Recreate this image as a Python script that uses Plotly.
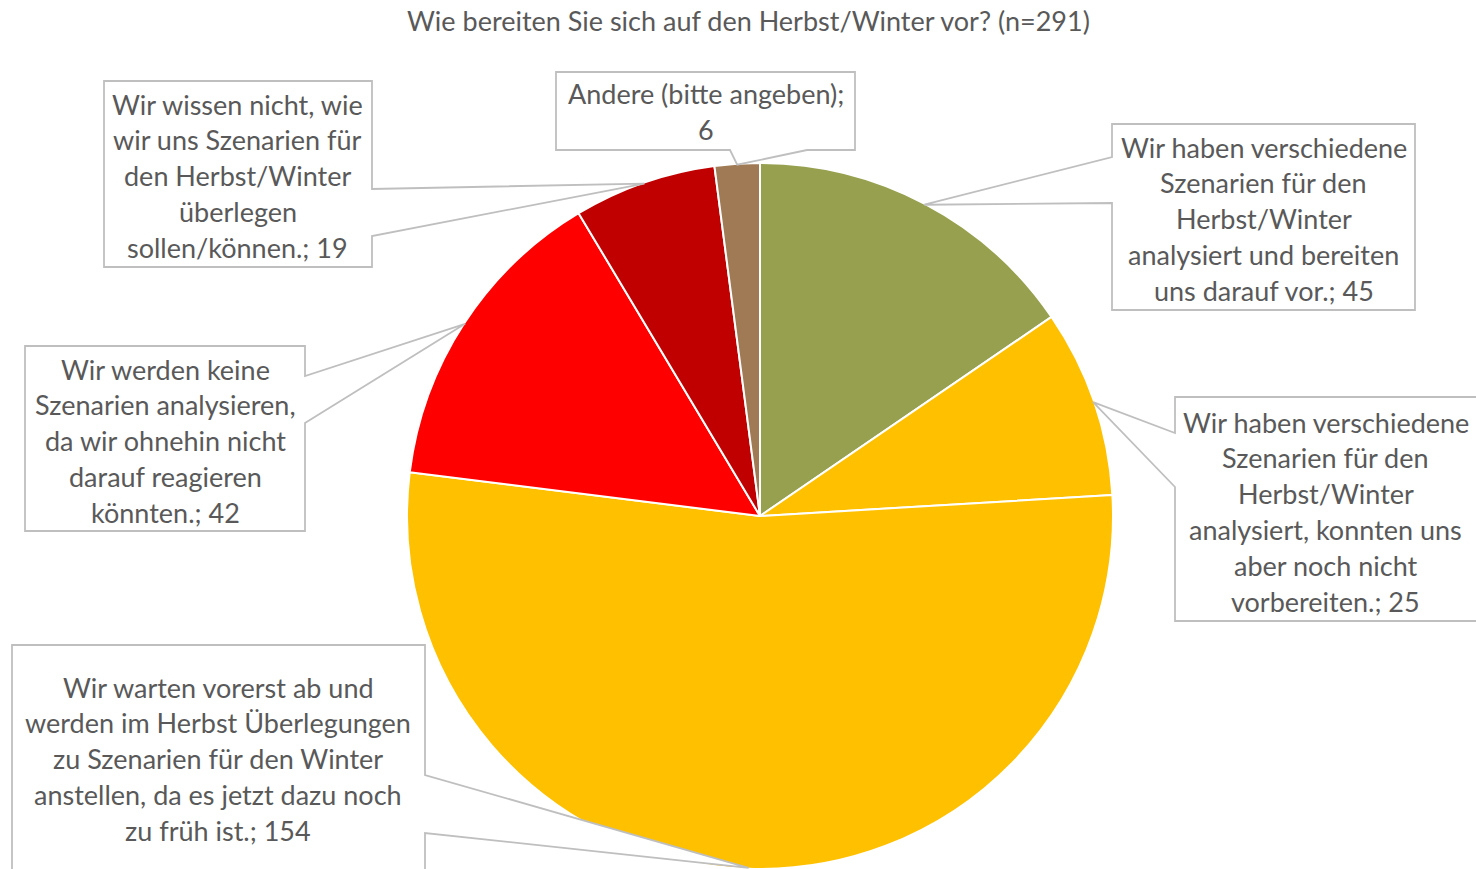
import math
import plotly.graph_objects as go

W, H = 1476, 869

title = "Wie bereiten Sie sich auf den Herbst/Winter vor? (n=291)"

# wrapped category labels (as shown in the callouts)
label_lines = [
    ["Wir haben verschiedene", "Szenarien für den", "Herbst/Winter", "analysiert und bereiten", "uns darauf vor."],
    ["Wir haben verschiedene", "Szenarien für den", "Herbst/Winter", "analysiert, konnten uns", "aber noch nicht", "vorbereiten."],
    ["Wir warten vorerst ab und", "werden im Herbst Überlegungen", "zu Szenarien für den Winter", "anstellen, da es jetzt dazu noch", "zu früh ist."],
    ["Wir werden keine", "Szenarien analysieren,", "da wir ohnehin nicht", "darauf reagieren", "könnten."],
    ["Wir wissen nicht, wie", "wir uns Szenarien für", "den Herbst/Winter", "überlegen", "sollen/können."],
    ["Andere (bitte angeben)"],
]
categories = [" ".join(l) for l in label_lines]
values = [45, 25, 154, 42, 19, 6]
value_on_new_line = [False, False, False, False, False, True]
colors = ["#97A04E", "#FFC000", "#FFC000", "#FF0000", "#C00000", "#A07A55"]

# ---- layout constants (pixels, from top-left) ----
CX, CY, R = 760, 516, 353
FONT = "Lato"
TXT = "#595959"
LINE = "#BFBFBF"
LBL_SIZE = 27
TITLE_SIZE = 27
LINE_GAP = 35.8

# callout boxes: x0, y0, x1, y1, wedge side, wedge base a, b, first text line y
boxes = [
    (1112, 124, 1415, 310, "left", 157, 203, 147),
    (1175, 397, 1480, 621, "left", 433, 487, 422),
    (12, 645, 425, 900, "right", 775, 833, 687),
    (25, 346, 305, 531, "right", 376, 423, 369),
    (104, 81, 372, 267, "right", 189, 236, 104),
    (556, 72, 855, 150, "bottom", 730, 807, 94),
]


def px(x):
    return x / W


def py(y):
    return 1 - y / H


fig = go.Figure()
fig.add_trace(go.Pie(
    labels=categories,
    values=values,
    marker=dict(colors=colors, line=dict(color="white", width=2)),
    sort=False,
    direction="clockwise",
    rotation=0,
    textinfo="none",
    hoverinfo="label+value",
    showlegend=False,
    domain=dict(x=[(CX - R) / W, (CX + R) / W], y=[max(0, (H - CY - R)) / H, (H - CY + R) / H]),
))

total = sum(values)
shapes = []
annotations = []
cum = 0
for i, v in enumerate(values):
    mid = (cum + v / 2) / total * 2 * math.pi
    cum += v
    tx = CX + (R - 1) * math.sin(mid)
    ty = CY - (R - 1) * math.cos(mid)
    x0, y0, x1, y1, side, a, b, ly = boxes[i]
    pts = [(x0, y0)]
    if side == "top":
        pts += [(a, y0), (tx, ty), (b, y0)]
    pts += [(x1, y0)]
    if side == "right":
        pts += [(x1, a), (tx, ty), (x1, b)]
    pts += [(x1, y1)]
    if side == "bottom":
        pts += [(b, y1), (tx, ty), (a, y1)]
    pts += [(x0, y1)]
    if side == "left":
        pts += [(x0, b), (tx, ty), (x0, a)]
    path = "M " + " L ".join(f"{px(x):.5f},{py(y):.5f}" for x, y in pts) + " Z"
    shapes.append(dict(type="path", xref="paper", yref="paper", path=path,
                       fillcolor="white", line=dict(color=LINE, width=1.8), layer="above"))
    lines = list(label_lines[i])
    if value_on_new_line[i]:
        lines[-1] = lines[-1] + ";"
        lines.append(str(v))
    else:
        lines[-1] = lines[-1] + "; " + str(v)
    cxb = (x0 + min(x1, W)) / 2
    for k, t in enumerate(lines):
        annotations.append(dict(x=px(cxb), y=py(ly + k * LINE_GAP), xref="paper", yref="paper",
                                text=t, showarrow=False, xanchor="center", yanchor="middle",
                                font=dict(family=FONT, size=LBL_SIZE, color=TXT)))

annotations.append(dict(x=px(749), y=py(21), xref="paper", yref="paper", text=title,
                        showarrow=False, xanchor="center", yanchor="middle",
                        font=dict(family=FONT, size=TITLE_SIZE, color=TXT)))

fig.update_layout(
    width=W, height=H,
    margin=dict(l=0, r=0, t=0, b=0),
    paper_bgcolor="white", plot_bgcolor="white",
    shapes=shapes, annotations=annotations,
)
fig.write_html("out.html", config={"displayModeBar": False},
               post_script="document.body.style.margin='0px';document.body.style.overflow='hidden';")
